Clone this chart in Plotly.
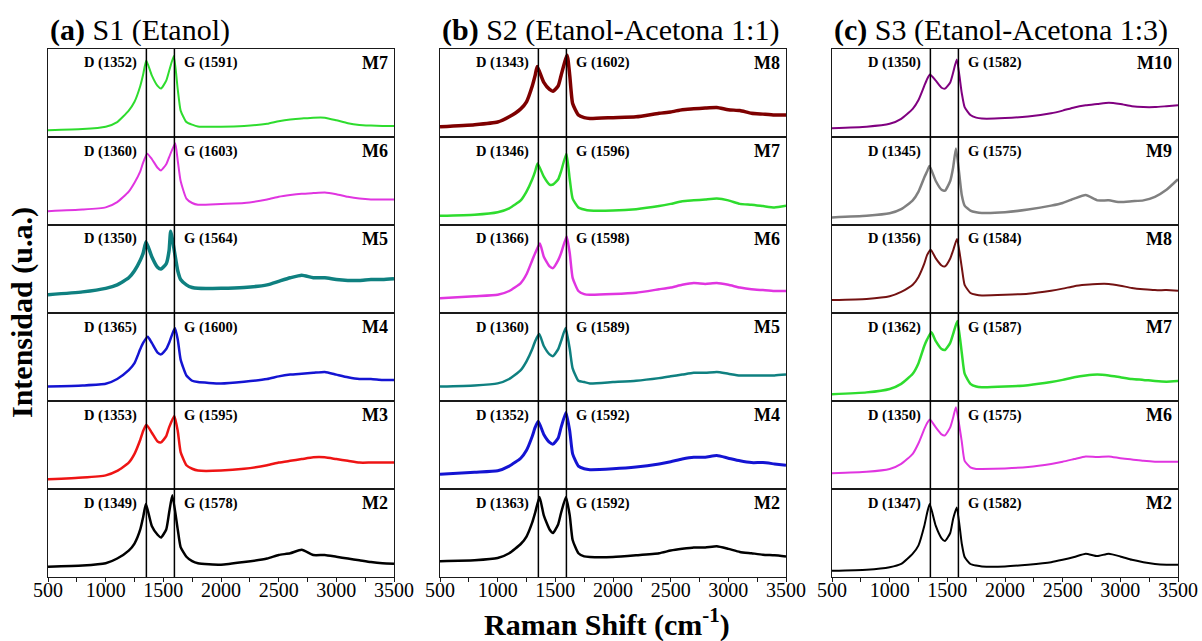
import plotly.graph_objects as go

# Raman shift sample positions (cm^-1) shared by every spectrum
x_base = [500, 800, 1000, 1100, 1200, 1250, 1300, 1325,
          1400, 1450, 1480, 1525, 1550,
          1625, 1650, 1700, 1750, 1800,
          2000, 2200, 2400, 2500, 2600, 2700, 2800, 2900,
          3000, 3100, 3200, 3300, 3400, 3500]

# ---------------- S1 (Etanol) ----------------
s1_names = ["M7", "M6", "M5", "M4", "M3", "M2"]
s1_d_pos = [1352, 1360, 1350, 1365, 1353, 1349]
s1_g_pos = [1591, 1603, 1564, 1600, 1595, 1578]
s1_d_int = [0.87, 0.81, 0.81, 0.73, 0.73, 0.83]
s1_g_int = [0.92, 0.93, 0.93, 0.83, 0.83, 0.93]
s1_m7 = [0.078, 0.09, 0.117, 0.17, 0.30, 0.40, 0.58, 0.71,
         0.70, 0.58, 0.55, 0.64, 0.75,
         0.54, 0.30, 0.17, 0.14, 0.12,
         0.117, 0.125, 0.15, 0.18, 0.20, 0.21, 0.22, 0.22,
         0.19, 0.156, 0.137, 0.13, 0.125, 0.125]
s1_m6 = [0.156, 0.175, 0.20, 0.26, 0.38, 0.48, 0.61, 0.71,
         0.75, 0.65, 0.62, 0.69, 0.77,
         0.73, 0.50, 0.30, 0.25, 0.23,
         0.24, 0.25, 0.29, 0.32, 0.34, 0.355, 0.363, 0.37,
         0.35, 0.32, 0.30, 0.29, 0.29, 0.29]
s1_m5 = [0.207, 0.24, 0.28, 0.32, 0.40, 0.48, 0.60, 0.68,
         0.64, 0.52, 0.50, 0.56, 0.71,
         0.48, 0.38, 0.32, 0.29, 0.28,
         0.28, 0.29, 0.32, 0.36, 0.40, 0.43, 0.40, 0.40,
         0.38, 0.37, 0.37, 0.38, 0.38, 0.39]
s1_m4 = [0.164, 0.176, 0.195, 0.25, 0.35, 0.43, 0.59, 0.66,
         0.66, 0.55, 0.53, 0.59, 0.66,
         0.70, 0.47, 0.29, 0.23, 0.215,
         0.20, 0.22, 0.25, 0.28, 0.30, 0.31, 0.32, 0.33,
         0.30, 0.27, 0.25, 0.25, 0.24, 0.24]
s1_m3 = [0.11, 0.13, 0.155, 0.205, 0.30, 0.40, 0.56, 0.66,
         0.64, 0.54, 0.53, 0.60, 0.70,
         0.66, 0.42, 0.27, 0.23, 0.21,
         0.21, 0.23, 0.27, 0.30, 0.32, 0.34, 0.36, 0.36,
         0.34, 0.32, 0.30, 0.30, 0.30, 0.30]
s1_m2 = [0.117, 0.13, 0.156, 0.21, 0.30, 0.38, 0.54, 0.68,
         0.58, 0.48, 0.45, 0.54, 0.73,
         0.54, 0.34, 0.23, 0.18, 0.156,
         0.14, 0.17, 0.21, 0.25, 0.27, 0.31, 0.25, 0.25,
         0.23, 0.21, 0.19, 0.17, 0.156, 0.15]

# ---------------- S2 (Etanol-Acetona 1:1) ----------------
s2_names = ["M8", "M7", "M6", "M5", "M4", "M2"]
s2_d_pos = [1343, 1346, 1366, 1360, 1352, 1363]
s2_g_pos = [1602, 1596, 1598, 1589, 1592, 1592]
s2_d_int = [0.80, 0.70, 0.79, 0.76, 0.77, 0.91]
s2_g_int = [0.93, 0.81, 0.87, 0.83, 0.87, 0.91]
s2_m8 = [0.117, 0.14, 0.17, 0.23, 0.32, 0.40, 0.58, 0.70,
         0.62, 0.54, 0.52, 0.58, 0.70,
         0.70, 0.38, 0.25, 0.22, 0.21,
         0.22, 0.23, 0.27, 0.285, 0.31, 0.32, 0.33, 0.336,
         0.31, 0.30, 0.27, 0.26, 0.25, 0.25]
s2_m7 = [0.105, 0.117, 0.145, 0.19, 0.28, 0.38, 0.52, 0.61,
         0.55, 0.46, 0.46, 0.52, 0.61,
         0.52, 0.30, 0.20, 0.176, 0.164,
         0.164, 0.18, 0.215, 0.24, 0.27, 0.28, 0.29, 0.30,
         0.28, 0.24, 0.23, 0.215, 0.20, 0.22]
s2_m6 = [0.168, 0.19, 0.207, 0.25, 0.34, 0.44, 0.60, 0.68,
         0.64, 0.53, 0.51, 0.60, 0.68,
         0.68, 0.40, 0.25, 0.215, 0.207,
         0.215, 0.23, 0.27, 0.29, 0.32, 0.34, 0.33, 0.34,
         0.32, 0.29, 0.27, 0.26, 0.25, 0.25]
s2_m5 = [0.164, 0.176, 0.20, 0.25, 0.35, 0.45, 0.59, 0.68,
         0.625, 0.53, 0.51, 0.59, 0.68,
         0.59, 0.37, 0.23, 0.215, 0.20,
         0.215, 0.23, 0.26, 0.28, 0.30, 0.32, 0.32, 0.33,
         0.31, 0.29, 0.29, 0.29, 0.29, 0.30]
s2_m4 = [0.168, 0.19, 0.207, 0.26, 0.35, 0.44, 0.60, 0.70,
         0.62, 0.53, 0.51, 0.58, 0.70,
         0.66, 0.40, 0.26, 0.23, 0.22,
         0.23, 0.25, 0.285, 0.31, 0.34, 0.36, 0.36, 0.38,
         0.35, 0.32, 0.30, 0.30, 0.285, 0.27]
s2_m2 = [0.18, 0.19, 0.215, 0.27, 0.375, 0.46, 0.62, 0.73,
         0.70, 0.54, 0.50, 0.60, 0.73,
         0.70, 0.42, 0.27, 0.234, 0.227,
         0.227, 0.246, 0.27, 0.30, 0.32, 0.336, 0.336, 0.35,
         0.32, 0.285, 0.27, 0.254, 0.246, 0.234]

# ---------------- S3 (Etanol-Acetona 1:3) ----------------
s3_names = ["M10", "M9", "M8", "M7", "M6", "M2"]
s3_d_pos = [1350, 1345, 1356, 1362, 1350, 1347]
s3_g_pos = [1582, 1575, 1584, 1587, 1575, 1582]
s3_d_int = [0.71, 0.67, 0.72, 0.78, 0.79, 0.83]
s3_g_int = [0.88, 0.87, 0.84, 0.91, 0.93, 0.79]
s3_m10 = [0.10, 0.117, 0.15, 0.207, 0.32, 0.42, 0.58, 0.66,
          0.64, 0.56, 0.55, 0.62, 0.73,
          0.50, 0.34, 0.25, 0.22, 0.21,
          0.215, 0.234, 0.27, 0.30, 0.336, 0.36, 0.375, 0.39,
          0.375, 0.35, 0.34, 0.34, 0.35, 0.36]
s3_m9 = [0.086, 0.105, 0.133, 0.18, 0.28, 0.38, 0.54, 0.61,
         0.50, 0.40, 0.39, 0.50, 0.65,
         0.34, 0.22, 0.164, 0.145, 0.137,
         0.145, 0.176, 0.22, 0.25, 0.30, 0.34, 0.28, 0.28,
         0.26, 0.27, 0.28, 0.32, 0.40, 0.52]
s3_m8 = [0.148, 0.16, 0.19, 0.24, 0.32, 0.41, 0.56, 0.66,
         0.62, 0.54, 0.53, 0.62, 0.71,
         0.52, 0.32, 0.227, 0.207, 0.20,
         0.207, 0.22, 0.254, 0.277, 0.305, 0.32, 0.33, 0.33,
         0.31, 0.285, 0.27, 0.26, 0.26, 0.254]
s3_m7 = [0.078, 0.098, 0.137, 0.195, 0.31, 0.43, 0.625, 0.70,
         0.68, 0.59, 0.58, 0.66, 0.76,
         0.55, 0.31, 0.195, 0.164, 0.156,
         0.164, 0.18, 0.215, 0.24, 0.27, 0.29, 0.30, 0.29,
         0.27, 0.25, 0.24, 0.227, 0.22, 0.227]
s3_m6 = [0.18, 0.195, 0.227, 0.285, 0.40, 0.52, 0.68, 0.75,
         0.70, 0.62, 0.61, 0.70, 0.81,
         0.54, 0.32, 0.246, 0.227, 0.227,
         0.234, 0.25, 0.285, 0.31, 0.34, 0.37, 0.363, 0.37,
         0.35, 0.336, 0.32, 0.31, 0.31, 0.31]
s3_m2 = [0.07, 0.082, 0.11, 0.148, 0.265, 0.36, 0.58, 0.73,
         0.58, 0.44, 0.41, 0.50, 0.66,
         0.38, 0.227, 0.148, 0.13, 0.12,
         0.12, 0.14, 0.168, 0.195, 0.227, 0.265, 0.238, 0.265,
         0.234, 0.195, 0.168, 0.148, 0.14, 0.14]

panel_titles = ["<b>(a)</b> S1 (Etanol)",
                "<b>(b)</b> S2 (Etanol-Acetona 1:1)",
                "<b>(c)</b> S3 (Etanol-Acetona 1:3)"]
x_ticks = [500, 1000, 1500, 2000, 2500, 3000, 3500]
ref_lines = [1353, 1596]

panels = [
    dict(names=s1_names, d_pos=s1_d_pos, g_pos=s1_g_pos, d_int=s1_d_int, g_int=s1_g_int,
         series=[s1_m7, s1_m6, s1_m5, s1_m4, s1_m3, s1_m2]),
    dict(names=s2_names, d_pos=s2_d_pos, g_pos=s2_g_pos, d_int=s2_d_int, g_int=s2_g_int,
         series=[s2_m8, s2_m7, s2_m6, s2_m5, s2_m4, s2_m2]),
    dict(names=s3_names, d_pos=s3_d_pos, g_pos=s3_g_pos, d_int=s3_d_int, g_int=s3_g_int,
         series=[s3_m10, s3_m9, s3_m8, s3_m7, s3_m6, s3_m2]),
]

# line styles (colour, width) per panel, top to bottom
GREEN, MAGENTA, TEAL, BLUE, RED, BLACK = "#2EDC2E", "#E035E0", "#0F8080", "#1414D2", "#EE1414", "#000000"
WINE, PURPLE, GRAY, BROWN = "#7E0000", "#800080", "#808080", "#741212"
panel_colors = [
    [GREEN, MAGENTA, TEAL, BLUE, RED, BLACK],
    [WINE, GREEN, MAGENTA, TEAL, BLUE, BLACK],
    [PURPLE, GRAY, BROWN, GREEN, MAGENTA, BLACK],
]
panel_widths = [
    [2.0, 2.0, 3.5, 2.5, 2.5, 2.5],
    [3.5, 2.5, 2.5, 2.5, 3.0, 2.5],
    [2.0, 2.5, 2.0, 2.5, 2.0, 2.0],
]

W, H = 1202, 641
COL_PX = [(48, 394), (440, 786), (832, 1178)]
TOP_PX, ROW_H = 49, 88
SERIF = "Liberation Serif, Times New Roman, serif"
AXIS_COLOR = "#1a1a1a"


def xdom(c):
    return [COL_PX[c][0] / W, COL_PX[c][1] / W]


def ydom(r):
    t = TOP_PX + r * ROW_H
    return [1 - (t + ROW_H) / H, 1 - t / H]


def with_peaks(xs, ys, peaks):
    pts = sorted(list(zip(xs, ys)) + peaks)
    return [p[0] for p in pts], [p[1] for p in pts]


fig = go.Figure()
layout = dict(
    width=W, height=H, margin=dict(l=0, r=0, t=0, b=0, autoexpand=False),
    paper_bgcolor="white", plot_bgcolor="white", showlegend=False,
    annotations=[], shapes=[],
)

for c, p in enumerate(panels):
    for r in range(6):
        n = c * 6 + r + 1
        sfx = "" if n == 1 else str(n)
        xs, ys = with_peaks(x_base, p["series"][r],
                            [(p["d_pos"][r], p["d_int"][r]), (p["g_pos"][r], p["g_int"][r])])
        fig.add_trace(go.Scatter(
            x=xs, y=ys, mode="lines", xaxis="x" + sfx, yaxis="y" + sfx,
            line=dict(color=panel_colors[c][r], width=panel_widths[c][r],
                      shape="spline", smoothing=0.5),
            hoverinfo="skip",
        ))
        bottom = (r == 5)
        xa = dict(domain=xdom(c), range=[500, 3500], anchor="y" + sfx, automargin=False,
                  showline=True, mirror=True, linecolor=AXIS_COLOR, linewidth=1.3,
                  showgrid=False, zeroline=False, fixedrange=True)
        if bottom:
            xa.update(ticks="outside", ticklen=4, tickwidth=1.3, tickcolor=AXIS_COLOR,
                      tickvals=x_ticks, ticktext=[str(v) for v in x_ticks],
                      ticklabelstandoff=-9,
                      tickfont=dict(family=SERIF, size=20, color="black"),
                      minor=dict(ticks="outside", ticklen=4, tickwidth=1.3,
                                 tickcolor=AXIS_COLOR, dtick=250, tick0=500))
        else:
            xa.update(ticks="", showticklabels=False)
        layout["xaxis" + sfx] = xa
        layout["yaxis" + sfx] = dict(domain=ydom(r), range=[0, 1], anchor="x" + sfx,
                                     automargin=False,
                                     showline=True, mirror=True, linecolor=AXIS_COLOR,
                                     linewidth=1.3, showgrid=False, zeroline=False,
                                     ticks="", showticklabels=False, fixedrange=True)
        yref = "y" + sfx + " domain"
        layout["annotations"] += [
            dict(x=1290, xref="x" + sfx, y=1, yref=yref, yshift=-14,
                 xanchor="right", yanchor="middle", showarrow=False,
                 text="<b>D (%d)</b>" % p["d_pos"][r],
                 font=dict(family=SERIF, size=14.5, color="black")),
            dict(x=1665, xref="x" + sfx, y=1, yref=yref, yshift=-14,
                 xanchor="left", yanchor="middle", showarrow=False,
                 text="<b>G (%d)</b>" % p["g_pos"][r],
                 font=dict(family=SERIF, size=14.5, color="black")),
            dict(x=3500, xref="x" + sfx, xshift=-4, y=1, yref=yref, yshift=-14,
                 xanchor="right", yanchor="middle", showarrow=False,
                 text="<b>%s</b>" % p["names"][r],
                 font=dict(family=SERIF, size=18, color="black")),
        ]
    # D / G reference lines spanning the whole column
    xref_bottom = "x" + str(c * 6 + 6)
    for xv in ref_lines:
        layout["shapes"].append(dict(
            type="line", xref=xref_bottom, yref="paper", x0=xv, x1=xv,
            y0=ydom(5)[0], y1=ydom(0)[1], layer="above",
            line=dict(color="black", width=1.5)))
    layout["annotations"].append(dict(
        x=COL_PX[c][0] / W, xref="paper", y=1 - 30 / H, yref="paper",
        xanchor="left", yanchor="middle", showarrow=False, text=panel_titles[c],
        font=dict(family=SERIF, size=30, color="black")))

layout["annotations"] += [
    dict(x=607 / W, xref="paper", y=1 - 622 / H, yref="paper",
         xanchor="center", yanchor="middle", showarrow=False,
         text="<b>Raman Shift (cm<sup>-1</sup>)</b>",
         font=dict(family=SERIF, size=30, color="black")),
    dict(x=22 / W, xref="paper", y=1 - 313 / H, yref="paper",
         xanchor="center", yanchor="middle", showarrow=False, textangle=-90,
         text="<b>Intensidad (u.a.)</b>",
         font=dict(family=SERIF, size=30, color="black")),
]

fig.update_layout(**layout)
fig.write_html("out.html")
